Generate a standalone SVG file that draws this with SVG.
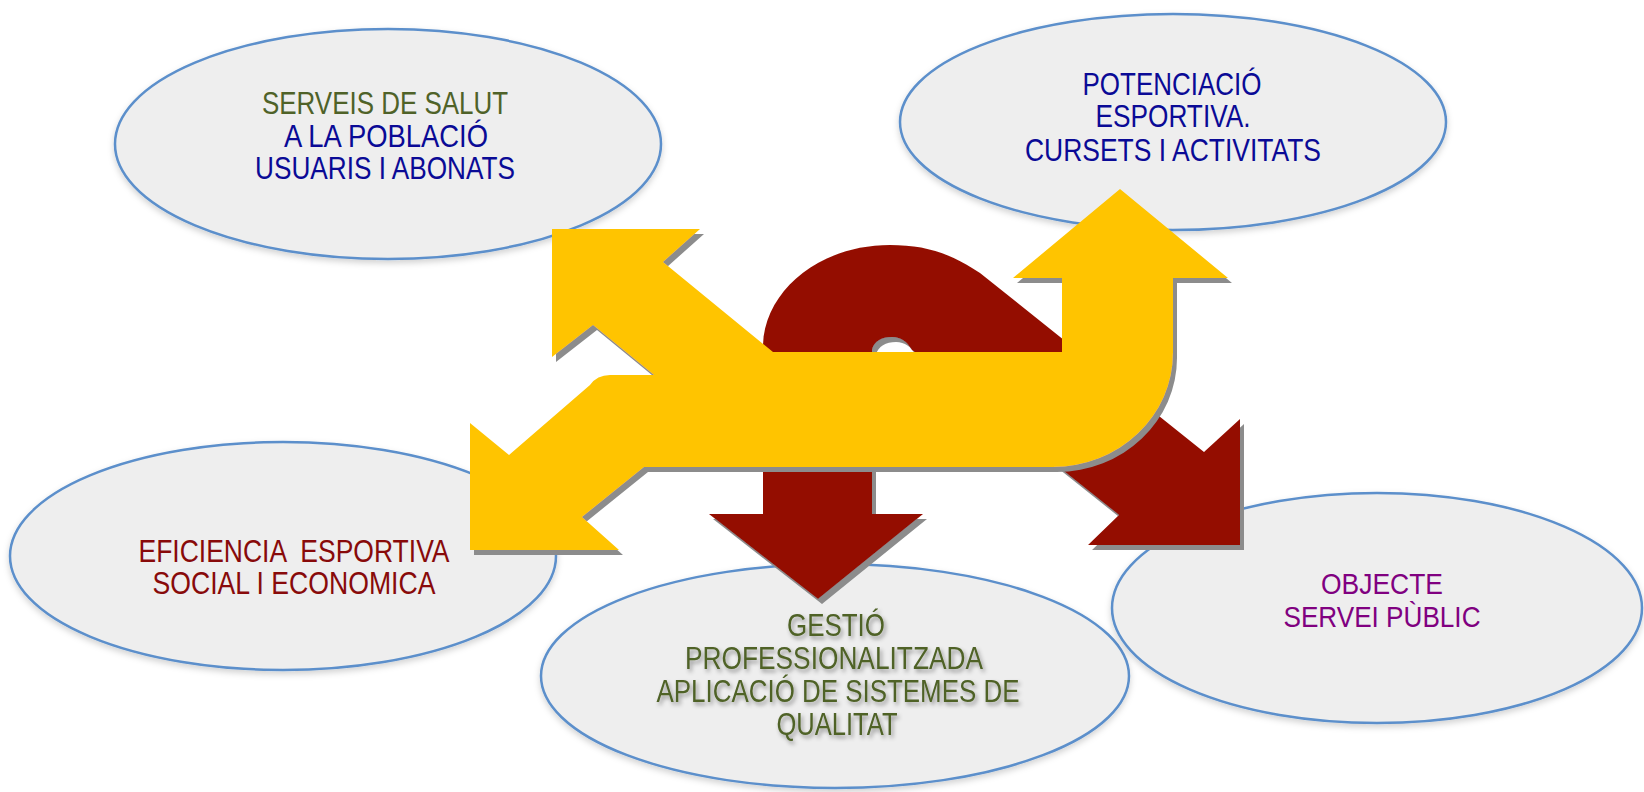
<svg xmlns="http://www.w3.org/2000/svg" width="1644" height="792" viewBox="0 0 1644 792">
  <style>
    .ell { fill: #EEEEEE; stroke: #5B8FCB; stroke-width: 2.5; }
    .t { font-family: "Liberation Sans Narrow", "Liberation Sans", Arial, sans-serif; font-size: 31px; text-anchor: middle; }
    .green { fill: #4F6228; }
    .blue { fill: #0A0A96; }
    .dred { fill: #880A0A; }
    .purple { fill: #800080; }
    .yellow { fill: #FFC400; }
    .red { fill: #941100; }
  </style>
  <defs>
    <filter id="drop" x="-5%" y="-5%" width="115%" height="115%">
      <feOffset in="SourceAlpha" dx="4" dy="5" result="o"/>
      <feFlood flood-color="#8C8C8C"/>
      <feComposite in2="o" operator="in" result="s"/>
      <feMerge><feMergeNode in="s"/><feMergeNode in="SourceGraphic"/></feMerge>
    </filter>
    <filter id="soft" x="-5%" y="-5%" width="110%" height="115%">
      <feGaussianBlur in="SourceAlpha" stdDeviation="3"/>
      <feOffset dx="0" dy="3" result="b"/>
      <feFlood flood-color="#000" flood-opacity="0.18"/>
      <feComposite in2="b" operator="in" result="s"/>
      <feMerge><feMergeNode in="s"/><feMergeNode in="SourceGraphic"/></feMerge>
    </filter>
    <filter id="tshadow" x="-10%" y="-30%" width="120%" height="160%">
      <feGaussianBlur in="SourceAlpha" stdDeviation="2"/>
      <feOffset dx="2" dy="3" result="b"/>
      <feFlood flood-color="#000" flood-opacity="0.4"/>
      <feComposite in2="b" operator="in" result="s"/>
      <feMerge><feMergeNode in="s"/><feMergeNode in="SourceGraphic"/></feMerge>
    </filter>
  </defs>
  <rect width="1644" height="792" fill="#FFFFFF"/>

  <g id="node-serveis-salut">
    <ellipse class="ell" filter="url(#soft)" cx="388" cy="144" rx="273" ry="115"/>
    <text class="t green" x="385" y="114" textLength="246" lengthAdjust="spacingAndGlyphs">SERVEIS DE SALUT</text>
    <text class="t blue" x="386" y="147" textLength="204" lengthAdjust="spacingAndGlyphs">A LA POBLACIÓ</text>
    <text class="t blue" x="385" y="179" textLength="260" lengthAdjust="spacingAndGlyphs">USUARIS I ABONATS</text>
  </g>

  <g id="node-potenciacio">
    <ellipse class="ell" filter="url(#soft)" cx="1173" cy="122" rx="273" ry="108"/>
    <text class="t blue" x="1172" y="95" textLength="179" lengthAdjust="spacingAndGlyphs">POTENCIACIÓ</text>
    <text class="t blue" x="1173" y="127" textLength="155" lengthAdjust="spacingAndGlyphs">ESPORTIVA.</text>
    <text class="t blue" x="1173" y="161" textLength="296" lengthAdjust="spacingAndGlyphs">CURSETS I ACTIVITATS</text>
  </g>

  <g id="node-eficiencia">
    <ellipse class="ell" filter="url(#soft)" cx="283" cy="556" rx="273" ry="114"/>
    <text class="t dred" x="294" y="562" textLength="311" lengthAdjust="spacingAndGlyphs" xml:space="preserve">EFICIENCIA  ESPORTIVA</text>
    <text class="t dred" x="294" y="594" textLength="283" lengthAdjust="spacingAndGlyphs">SOCIAL I ECONOMICA</text>
  </g>

  <g id="node-gestio">
    <ellipse class="ell" filter="url(#soft)" cx="835" cy="676" rx="294" ry="112"/>
    <g filter="url(#tshadow)">
      <text class="t green" x="836" y="636" textLength="98" lengthAdjust="spacingAndGlyphs">GESTIÓ</text>
      <text class="t green" x="834" y="669" textLength="298" lengthAdjust="spacingAndGlyphs">PROFESSIONALITZADA</text>
      <text class="t green" x="838" y="702" textLength="363" lengthAdjust="spacingAndGlyphs">APLICACIÓ DE SISTEMES DE</text>
      <text class="t green" x="837" y="735" textLength="121" lengthAdjust="spacingAndGlyphs">QUALITAT</text>
    </g>
  </g>

  <g id="node-objecte">
    <ellipse class="ell" filter="url(#soft)" cx="1377" cy="608" rx="265" ry="115"/>
    <text class="t purple" x="1382" y="594" style="font-size:30px" textLength="122" lengthAdjust="spacingAndGlyphs">OBJECTE</text>
    <text class="t purple" x="1382" y="627" style="font-size:30px" textLength="197" lengthAdjust="spacingAndGlyphs">SERVEI PÙBLIC</text>
  </g>

  <g id="connectors">
    <g id="red-arrows" filter="url(#drop)">
      <path class="red" d="M 763,345 L 763,514 L 709,514 L 818,599 L 923,514 L 872,514 L 872,350 C 874,341 882,337 892,337 C 901,337 907,342 912,350 L 1119,515 L 1088,545 L 1240,545 L 1240,419 L 1204,452 L 980,273 C 950,253 925,245 890,245 C 820,245 765,290 763,345 Z"/>
    </g>
    <g id="yellow-arrows" filter="url(#drop)">
      <path class="yellow" d="M 470,423 L 509,455 L 590,385 Q 597,375 610,375 L 654,375 L 593,325 L 552,357 L 552,229 L 700,229 L 663,262 L 773,352 L 1062,352 L 1062,278 L 1013,278 L 1120,189 L 1228,278 L 1173,278 L 1173,353 A 120,114 0 0 1 1053,467 L 644,467 L 582,517 L 619,550 L 470,550 Z"/>
    </g>
  </g>
</svg>
